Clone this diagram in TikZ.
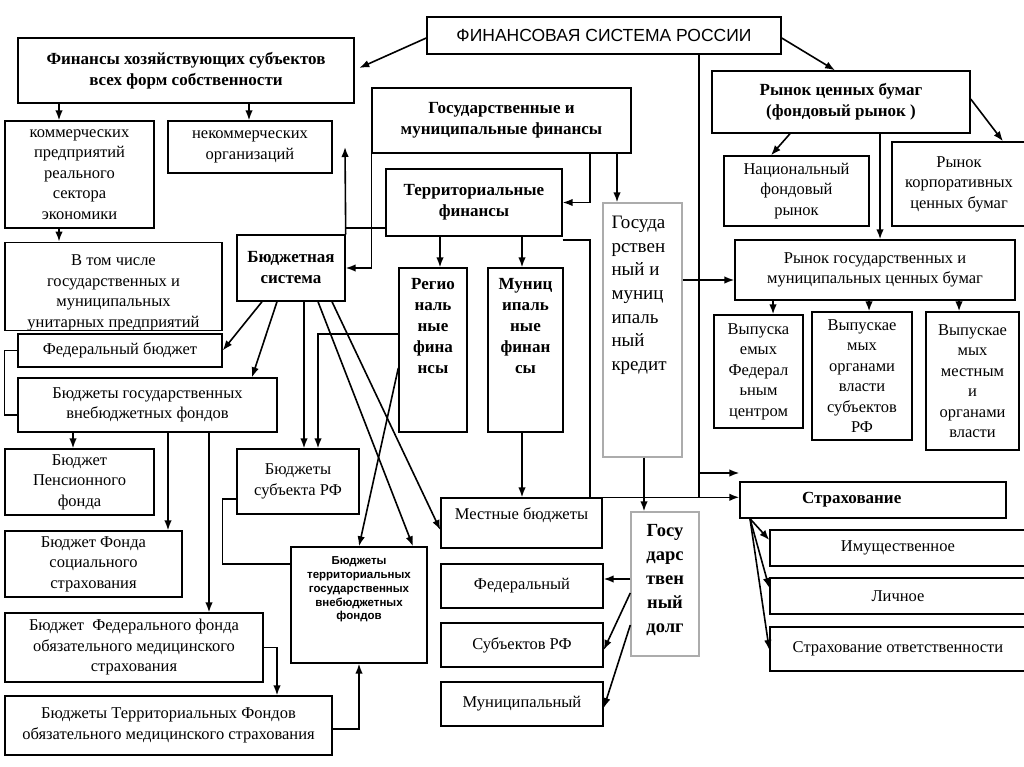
\documentclass[tikz,border=0pt]{standalone}
\usepackage{fontspec}
\setmainfont{Liberation Serif}
\setsansfont{Liberation Sans}
\usetikzlibrary{arrows.meta}

\begin{document}
\begin{tikzpicture}[x=1pt, y=-1pt]
  \tikzset{
    box/.style={
      draw, line width=1.4pt, inner sep=2pt, align=center,
      font=\fontsize{16.5}{20.5}\selectfont
    },
    bbox/.style={
      box, font=\fontsize{17}{21}\selectfont\bfseries
    },
    gbox/.style={
      box, draw=gray!65
    },
    arr/.style={line width=1.6pt, -{Latex[length=10pt, width=7.5pt]}},
    link/.style={line width=1.2pt}
  }

  \fill [white] (0,0) rectangle (1024,767);
  \useasboundingbox (0,0) rectangle (1024,767);

  % top row
  \node [box, font=\sffamily\fontsize{17.5}{20}\selectfont, minimum width=354pt, minimum height=37pt] (title) at (604,35.5) {ФИНАНСОВАЯ СИСТЕМА РОССИИ};
  \node [bbox, minimum width=336pt, minimum height=65pt] (hoz) at (186,70.5) {Финансы хозяйствующих субъектов\\всех форм собственности};
  \node [bbox, minimum width=259pt, minimum height=65pt] (gmf) at (501.5,120.5) {Государственные и\\муниципальные финансы};
  \node [bbox, minimum width=258pt, minimum height=62pt] (rcb) at (841,102) {Рынок ценных бумаг\\(фондовый рынок )};

  % left column
  \node [box, minimum width=149pt, minimum height=107pt] (komm) at (79.5,174.5) {коммерческих\\предприятий\\реального\\сектора\\экономики};
  \node [box, minimum width=164pt, minimum height=52pt] (nekomm) at (250,147) {некоммерческих\\организаций};
  \node [box, inner sep=0pt, minimum width=217pt, minimum height=85pt] (unitar) at (113.5,286.5) {\parbox[c][85pt][b]{210pt}{\centering В том числе\\государственных и\\муниципальных\\унитарных предприятий}};
  \node [box, minimum width=204pt, minimum height=33pt] (fedb) at (120,350.5) {Федеральный бюджет};
  \node [box, minimum width=259pt, minimum height=54pt] (vnebud) at (147.5,405) {Бюджеты государственных\\внебюджетных фондов};
  \node [box, minimum width=149pt, minimum height=66pt] (pens) at (79.5,482) {Бюджет\\Пенсионного\\фонда};
  \node [box, minimum width=177pt, minimum height=66pt] (soc) at (93.5,564) {Бюджет Фонда\\социального\\страхования};
  \node [box, minimum width=258pt, minimum height=69pt] (foms) at (134,647.5) {Бюджет~ Федерального фонда\\обязательного медицинского\\страхования};
  \node [box, minimum width=327pt, minimum height=59pt] (tfoms) at (168.5,725.5) {Бюджеты Территориальных Фондов\\обязательного медицинского страхования};

  % budget system
  \node [bbox, minimum width=108pt, minimum height=66pt] (budsys) at (291,268) {Бюджетная\\система};
  \node [box, minimum width=122pt, minimum height=65pt] (subRF) at (298,481.5) {Бюджеты\\субъекта РФ};
  \node [box, inner sep=0pt, font=\sffamily\bfseries\fontsize{11.5}{13.7}\selectfont, minimum width=136pt, minimum height=116pt] (terrvf) at (359,605) {\parbox[c][96pt][t]{130pt}{\centering Бюджеты\\территориальных\\государственных\\внебюджетных\\фондов}};
  \node [bbox, minimum width=176pt, minimum height=67pt] (terr) at (474,202.5) {Территориальные\\финансы};
  \node [bbox, inner sep=0pt, minimum width=68pt, minimum height=164pt] (reg) at (433,350) {\parbox[c][144pt][t]{64pt}{\centering Регио\\наль\\ные\\фина\\нсы}};
  \node [bbox, inner sep=0pt, minimum width=75pt, minimum height=164pt] (mun) at (525.5,350) {\parbox[c][144pt][t]{70pt}{\centering Муниц\\ипаль\\ные\\финан\\сы}};
  \node [box, inner sep=0pt, minimum width=161pt, minimum height=50pt] (mest) at (521.5,523) {\parbox[c][30pt][t]{150pt}{\centering Местные бюджеты}};
  \node [box, minimum width=162pt, minimum height=44pt] (fed) at (522,586) {Федеральный};
  \node [box, minimum width=162pt, minimum height=44pt] (subj) at (522,645) {Субъектов РФ};
  \node [box, minimum width=162pt, minimum height=44pt] (munic) at (522,704) {Муниципальный};

  % credit and debt
  \node [gbox, inner sep=0pt, font=\fontsize{19}{23.7}\selectfont, minimum width=79pt, minimum height=254pt] (kredit) at (642.5,330) {\parbox[c][228pt][t]{62pt}{\raggedright Госуда\\рствен\\ный и\\муниц\\ипаль\\ный\\кредит}};
  \node [gbox, inner sep=0pt, font=\fontsize{18.5}{24}\selectfont\bfseries, minimum width=68pt, minimum height=144pt] (dolg) at (665,584) {\parbox[c][120pt][t]{64pt}{\centering Госу\\дарс\\твен\\ный\\долг}};

  % securities market
  \node [box, minimum width=145pt, minimum height=70pt] (nac) at (796.5,191) {Национальный\\фондовый\\рынок};
  \node [box, minimum width=134pt, minimum height=84pt] (korp) at (959,184) {Рынок\\корпоративных\\ценных бумаг};
  \node [box, minimum width=280pt, minimum height=60pt] (rgmcb) at (875,270) {Рынок государственных и\\муниципальных ценных бумаг};
  \node [box, minimum width=89pt, minimum height=113pt] (vfc) at (758.5,371.5) {Выпуска\\емых\\Федерал\\ьным\\центром};
  \node [box, minimum width=100pt, minimum height=128pt] (vsub) at (862,376) {Выпускае\\мых\\органами\\власти\\субъектов\\РФ};
  \node [box, minimum width=93pt, minimum height=138pt] (vmest) at (972.5,381) {Выпускае\\мых\\местным\\и\\органами\\власти};

  % insurance
  \node [bbox, inner sep=0pt, minimum width=266pt, minimum height=36pt] (strah) at (873,500) {\parbox{262pt}{\hspace*{60pt}Страхование}};
  \node [box, minimum width=256pt, minimum height=36pt] (imush) at (898,548) {Имущественное};
  \node [box, minimum width=256pt, minimum height=36pt] (lich) at (898,596) {Личное};
  \node [box, minimum width=256pt, minimum height=44pt] (otv) at (898,649) {Страхование ответственности};

  \coordinate (bstop) at (345,147);
  \coordinate (br) at (699,473);

  % from the title
  \draw [arr, shorten >=5pt] (title.west |- 0,38) -- (hoz.east |- 0,70);
  \draw [arr] (title.east |- 0,38) -- (rcb.north -| 835,0);
  \draw [link] (title.south -| 699,0) -- (mest.north -| 699,0);
  \draw [arr] (br) -- (strah.north west |- br);

  % enterprises
  \foreach \x/\t in {59/komm, 249/nekomm}
    \draw [arr] (hoz.south -| \x,0) -- (\t.north -| \x,0);
  \draw [arr] (komm.south -| 59,0) -- (unitar.north -| 59,0);
  \draw [link] (fedb.west) -- ++(-13,0) |- (vnebud.west |- 0,415);
  \foreach \x/\t in {73/pens, 168/soc, 209/foms}
    \draw [arr] (vnebud.south -| \x,0) -- (\t.north -| \x,0);
  \draw [arr] (foms.east) -| (tfoms.north -| 277,0);
  \draw [arr] (tfoms.east |- 0,729) -| (terrvf.south);

  % state and municipal finance
  \draw [arr] (gmf.south west) |- (budsys.east);
  \draw [arr] (gmf.south -| 590,0) |- (terr.east);
  \draw [arr] (gmf.south -| 617,0) -- (kredit.north -| 617,0);
  \draw [arr] (budsys.north east) -- (bstop);
  \draw [link] (terr.west |- 0,228) -- (bstop |- 0,228);
  \foreach \x/\t in {440/reg, 522/mun}
    \draw [arr] (terr.south -| \x,0) -- (\t.north -| \x,0);
  \draw [arr] (terr.south east |- 0,240) -| (mest.north -| 590,0) -- (strah.west |- mest.north);
  \draw [arr] (mun.south -| 522,0) -- (mest.north -| 522,0);
  \draw [arr] (reg.west |- 0,334) -| (subRF.north -| 318,0);
  \draw [arr] (reg.west |- 0,368) -- (terrvf.north -| 359,0);
  \draw [link] (subRF.west |- 0,499) -- ++(-14,0) |- (terrvf.west |- 0,564);

  % budget system
  \draw [arr] (budsys.south -| 262,0) -- (fedb.east);
  \draw [arr] (budsys.south -| 277,0) -- (vnebud.north -| 252,0);
  \draw [arr] (budsys.south -| 304,0) -- (subRF.north -| 304,0);
  \draw [arr] (budsys.south -| 318,0) -- (terrvf.north -| 413,0);
  \draw [arr] (budsys.south -| 332,0) -- (mest.west |- 0,530);

  % credit and debt
  \draw [arr] (kredit.east |- 0,280) -- (rgmcb.west |- 0,280);
  \draw [arr] (kredit.south -| 644,0) -- (dolg.north -| 644,0);
  \foreach \a/\b/\t in {579/579/fed, 593/650/subj, 625/708/munic}
    \draw [arr] (dolg.west |- 0,\a) -- (\t.east |- 0,\b);

  % securities market
  \draw [arr] (rcb.south -| 790,0) -- (nac.north -| 771,0);
  \draw [arr] (rcb.east |- 0,99) -- (korp.north -| 1003,0);
  \draw [arr] (rcb.south -| 880,0) -- (rgmcb.north -| 880,0);
  \foreach \x/\t in {773/vfc, 869/vsub, 959/vmest}
    \draw [arr] (rgmcb.south -| \x,0) -- (\t.north -| \x,0);

  % insurance
  \foreach \y/\t in {540/imush, 588/lich, 650/otv}
    \draw [arr] (strah.south -| 750,0) -- (\t.west |- 0,\y);
\end{tikzpicture}
\end{document}
